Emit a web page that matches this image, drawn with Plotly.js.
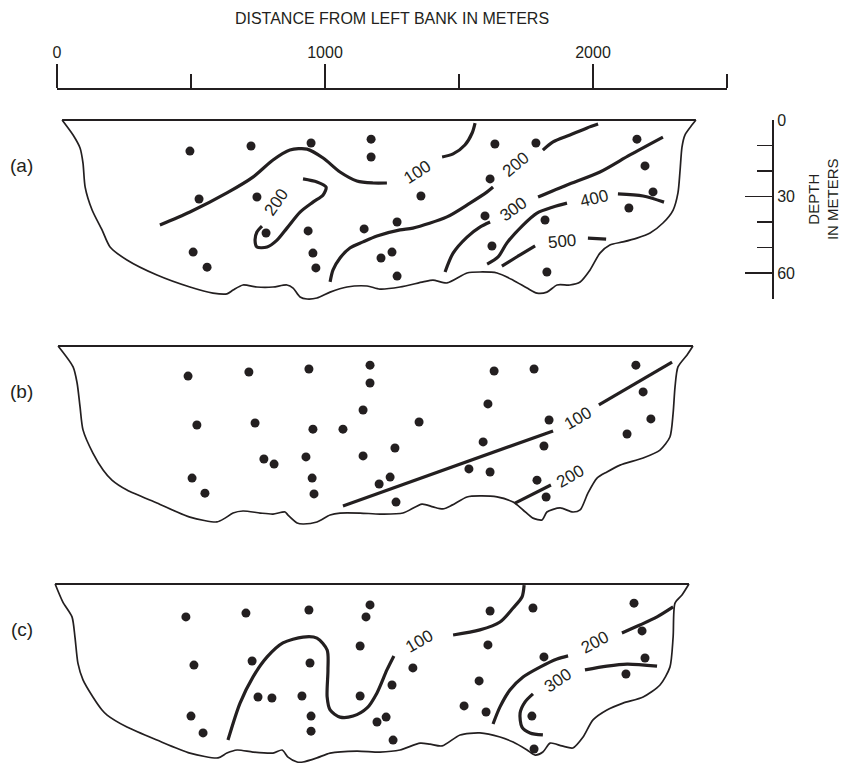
<!DOCTYPE html>
<html><head><meta charset="utf-8">
<script src="https://cdn.plot.ly/plotly-3.0.1.min.js"></script>
<style>html,body{margin:0;padding:0;background:#fff}</style>
</head><body><div id="chart" style="width:843px;height:763px"></div>
<script>
// ---------------- DATA (distance from left bank in m, depth in m) ----------------
// Scale ticks
const distTickVals = [0, 1000, 2000];
const distTickText = ['0', '1000', '2000'];
const distMinorTicks = [500, 1500, 2500];
const depthTickVals = [0, 30, 60];
const depthMinorTicks = [10, 20, 40, 50, 70];
const panelNames = ['(a)', '(b)', '(c)'];

// Panel (a): channel bed (right bank -> bottom -> left bank)
const aBedX = [2384,2369,2343,2332,2325,2317,2299,2261,2213,2164,2112,2063,2026,1989,1952,1914,1866,1828,1791,1754,1702,1642,1578,1530,1455,1403,1366,1280,1205,1157,1082,1019,970,933,907,881,858,806,746,694,657,634,582,496,373,261,198,168,131,105,97,86,60,19];
const aBedD = [0,2,5.9,10.6,19.6,28.6,35.3,40.4,44.3,46.3,47.8,49.0,52.2,58.8,63.5,64.7,64.7,67.5,67.9,65.9,62.8,60.0,59.6,60.0,63.9,62.8,63.5,65.5,66.3,65.1,65.5,67.5,69.8,70.2,69.4,65.9,64.7,65.5,65.5,64.7,66.7,68.2,67.9,65.5,60.8,54.9,49.8,43.1,35.3,26.3,16.9,11.0,5.9,0];
const aDotX = [496,724,948,1172,1172,530,746,780,937,1146,1269,508,560,955,966,1209,1250,1269,1358,1616,1597,1623,1821,1828,1634,1787,2164,2194,2224,2134];
const aDotD = [12.2,10.2,9.0,7.5,14.5,31.0,30.2,44.3,43.5,42.7,40.0,51.8,57.7,52.2,58.0,54.1,51.8,61.2,29.8,23.1,37.6,49.4,39.2,59.6,9.4,9.0,7.5,18.0,28.2,34.5];
const aContours = [
  {x:[384,496,634,731,806,869,933,993,1056,1119,1179,1231], d:[41.2,36.1,28.6,22.4,15.7,11.8,11.4,14.9,20.4,23.9,24.7,24.7]},
  {x:[1437,1478,1522,1549,1560], d:[14.5,13.3,9.8,5.1,1.2]},
  {x:[918,970,1004,993,955,907,858,821,784,746,739,746,765], d:[23.1,24.3,26.3,29.4,32.2,36.1,42.4,47.1,49.8,49.8,47.1,43.9,41.6]},
  {x:[1019,1030,1056,1093,1142,1194,1280,1328,1455,1541,1605,1627], d:[63.5,58.8,54.1,50.2,47.8,45.5,43.1,42.4,38.0,32.6,28.2,26.3]},
  {x:[1813,1851,1914,1978,2019], d:[11.8,8.6,5.9,3.1,1.6]},
  {x:[1448,1478,1530,1578,1616], d:[59.6,52.2,45.9,42.0,40.0]},
  {x:[1795,1903,2026,2138,2261], d:[30.2,25.5,20.4,13.7,6.7]},
  {x:[1605,1646,1679,1739,1791,1851,1903], d:[56.5,53.7,48.2,41.2,36.5,34.1,32.6]},
  {x:[2093,2187,2265], d:[29.0,29.8,32.2]},
  {x:[1660,1728,1784], d:[57.3,52.9,49.4]},
  {x:[1981,2049], d:[46.3,46.7]}
];
const aLabelText = ['100','200','200','300','400','500'];
const aLabelX = [1343,817,1713,1701,2004,1884];
const aLabelD = [20.4,32.2,17.6,34.9,30.6,47.8];
const aLabelAngle = [-33,-55,-40,-36,-14,-5];

// Panel (b)
const bBedX = [2373,2351,2317,2306,2299,2287,2250,2187,2101,2052,2015,1981,1952,1925,1877,1828,1810,1776,1739,1702,1642,1578,1530,1474,1440,1403,1362,1291,1205,1131,1056,1019,970,918,896,862,851,806,758,694,657,627,597,496,373,261,205,172,134,97,86,75,60,4];
const bBedD = [0,3.5,8.2,16.1,26.3,35.7,40.8,43.9,46.7,49.4,51.8,57.7,64.3,65.1,63.5,65.1,68.2,67.5,64.3,61.2,59.2,58.8,59.2,62.4,63.9,63.1,62.0,65.5,65.9,65.5,65.5,66.3,69.0,69.8,69.4,66.3,65.1,65.9,65.5,64.7,65.5,67.5,69.0,67.1,61.6,56.5,52.6,48.6,42.0,32.9,23.9,14.5,8.2,0];
const bDotX = [489,716,940,1168,1168,1142,522,739,955,1067,1261,1142,772,810,929,504,552,952,959,1243,1202,1265,1631,1780,2160,2187,2216,2127,1608,1836,1351,1590,1817,1537,1616,1791,1825];
const bDotD = [11.8,10.2,9.0,7.5,14.5,25.1,31.0,30.2,32.6,32.6,40.0,43.1,44.3,46.3,43.5,51.8,57.7,51.8,58.0,51.4,54.1,61.2,9.8,9.0,7.5,18.0,28.6,34.5,22.7,29.0,29.8,37.6,39.2,48.2,49.4,52.6,59.2];
const bContours = [
  {x:[1067,1851], d:[62.7,33.3]},
  {x:[2022,2295], d:[23.1,6.3]},
  {x:[1709,1843], d:[61.6,54.5]}
];
const bLabelText = ['100','200'];
const bLabelX = [1944,1914];
const bLabelD = [28.6,51.0];
const bLabelAngle = [-30,-30];

// Panel (c)
const cBedX = [2358,2332,2306,2299,2287,2250,2187,2112,2052,2000,1963,1925,1884,1840,1813,1784,1754,1702,1653,1578,1504,1437,1392,1355,1280,1205,1119,1019,970,918,896,862,840,806,731,672,634,601,496,373,261,187,168,134,97,78,67,56,22,-7];
const cBedD = [0,4.3,7.5,20.8,32.6,39.6,44.3,46.7,49.4,53.3,60.0,64.3,63.5,62.4,65.9,67.1,65.1,62.0,60.0,58.4,59.2,63.5,62.8,62.4,65.1,65.9,65.5,66.3,68.2,69.8,69.8,67.9,65.1,66.3,65.9,65.1,66.3,68.2,66.3,61.2,56.1,51.4,49.4,44.3,37.6,31.0,20.8,12.9,7.1,0];
const cDotX = [481,705,940,1168,1153,1131,511,728,944,1250,750,802,914,1131,500,545,948,948,1228,1194,1254,1616,1776,2153,2183,2194,2123,1608,1817,1328,1575,1519,1601,1772,1780];
const cDotD = [12.9,11.4,10.2,8.2,12.9,24.3,31.8,30.2,31.0,39.6,44.3,44.7,43.9,43.9,51.8,58.4,51.8,57.7,52.2,54.1,61.2,10.6,9.4,7.5,18.4,29.0,35.3,23.9,28.6,32.9,38.0,47.8,50.2,51.8,64.7];
const cContours = [
  {x:[638,683,731,784,843,918,970,1008,1011,1008,1019,1056,1105,1157,1194,1231,1257], d:[61.2,46.7,36.5,28.6,23.1,20.8,21.2,25.9,33.7,44.3,49.4,52.2,51.8,48.6,42.7,33.7,28.2]},
  {x:[1478,1578,1653,1702,1735,1743], d:[20.0,18.0,14.9,9.4,5.1,0.4]},
  {x:[1627,1653,1690,1739,1802,1866,1907], d:[54.9,48.2,41.6,36.5,32.6,29.4,28.2]},
  {x:[2108,2175,2239,2299], d:[19.2,16.1,12.9,9.0]},
  {x:[1776,1746,1728,1735,1765,1813], d:[43.1,46.3,50.6,56.1,58.4,59.2]},
  {x:[1970,2052,2127,2239], d:[33.7,32.2,31.4,32.2]}
];
const cLabelText = ['100','200','300'];
const cLabelX = [1351,2007,1869];
const cLabelD = [22.4,23.1,38.0];
const cLabelAngle = [-30,-28,-34];

// ---------------- LAYOUT GEOMETRY ----------------
const W = 843, H = 763;
const INK = '#231f20';
const FONT = 'Liberation Sans, Arial, Helvetica, sans-serif';
const X0PX = 57, PXM = 0.268;          // px of 0 m, px per metre (horizontal)
const PYM = 2.55;                      // px per metre (vertical)
const panelTop = [120, 346, 584];      // px of water surface per panel
const scaleLineY = 89, depthScaleX = 773, distMax = 2500, depthMax = 70;
const panelLabelX = -132, panelLabelD = 18;
const depthTitle = 'DEPTH<br>IN METERS', depthTitleX = 823, depthTitleD = 31;

const panels = [
  {bx:aBedX, bd:aBedD, dx:aDotX, dd:aDotD, c:aContours, lt:aLabelText, lx:aLabelX, ld:aLabelD, la:aLabelAngle},
  {bx:bBedX, bd:bBedD, dx:bDotX, dd:bDotD, c:bContours, lt:bLabelText, lx:bLabelX, ld:bLabelD, la:bLabelAngle},
  {bx:cBedX, bd:cBedD, dx:cDotX, dd:cDotD, c:cContours, lt:cLabelText, lx:cLabelX, ld:cLabelD, la:cLabelAngle}
];
const yNames = ['y', 'y2', 'y3'];

const traces = [];
const annotations = [];
panels.forEach((p, i) => {
  const ya = yNames[i];
  traces.push({type:'scatter', mode:'lines', x:[p.bx[p.bx.length-1], p.bx[0]], y:[0, 0], xaxis:'x', yaxis:ya,
    line:{color:INK, width:2.2}, hoverinfo:'skip'});
  traces.push({type:'scatter', mode:'lines', x:p.bx, y:p.bd, xaxis:'x', yaxis:ya,
    line:{color:INK, width:1.7, shape:'spline', smoothing:0.7}, hoverinfo:'skip'});
  p.c.forEach(s => traces.push({type:'scatter', mode:'lines', x:s.x, y:s.d, xaxis:'x', yaxis:ya,
    line:{color:INK, width:3.2, shape:'spline', smoothing:0.8}, hoverinfo:'skip'}));
  traces.push({type:'scatter', mode:'markers', x:p.dx, y:p.dd, xaxis:'x', yaxis:ya,
    marker:{color:INK, size:9}, hoverinfo:'skip', cliponaxis:false});
  p.lt.forEach((t, k) => annotations.push({x:p.lx[k], y:p.ld[k], xref:'x', yref:ya, text:t, textangle:p.la[k],
    showarrow:false, font:{family:FONT, size:17, color:INK}}));
  annotations.push({x:panelLabelX, y:panelLabelD, xref:'x', yref:ya, text:panelNames[i], showarrow:false,
    font:{family:FONT, size:19, color:INK}});
});
// depth scale title
annotations.push({x:depthTitleX / W, xref:'paper', y:depthTitleD, yref:'y4', text:depthTitle, textangle:-90,
  xanchor:'center', yanchor:'middle', borderpad:0, showarrow:false, font:{family:FONT, size:15, color:INK}});
// carrier trace for the two scale axes
traces.push({type:'scatter', mode:'markers', x:[distTickVals[0]], y:[depthTickVals[0]], xaxis:'x2', yaxis:'y4',
  marker:{opacity:0}, hoverinfo:'skip'});

function yRange(top) { return [(H - top) / PYM, -top / PYM]; }

const layout = {
  width: W, height: H, margin:{l:0, r:0, t:0, b:0}, showlegend:false,
  paper_bgcolor:'#fff', plot_bgcolor:'rgba(0,0,0,0)',
  font:{family:FONT, color:INK},
  xaxis:{domain:[0,1], range:[-X0PX / PXM, (W - X0PX) / PXM], visible:false, fixedrange:true},
  yaxis:{domain:[0,1], range:yRange(panelTop[0]), visible:false, fixedrange:true},
  yaxis2:{overlaying:'y', range:yRange(panelTop[1]), visible:false, fixedrange:true},
  yaxis3:{overlaying:'y', range:yRange(panelTop[2]), visible:false, fixedrange:true},
  xaxis2:{domain:[X0PX / W, (X0PX + distMax * PXM) / W], range:[0, distMax], anchor:'free', position:1 - scaleLineY / H,
    side:'top', showline:true, linecolor:INK, linewidth:2, showgrid:false, zeroline:false,
    tickmode:'array', tickvals:distTickVals, ticktext:distTickText, ticks:'outside', ticklen:24, tickwidth:1.3, tickcolor:INK,
    minor:{tickmode:'array', tickvals:distMinorTicks, ticks:'outside', ticklen:14, tickwidth:1.3, tickcolor:INK, showgrid:false},
    tickfont:{family:FONT, size:16, color:INK},
    title:{text:'DISTANCE FROM LEFT BANK IN METERS', font:{family:FONT, size:16, color:INK}, standoff:14}, fixedrange:true},
  yaxis4:{domain:[1 - (panelTop[0] + depthMax * PYM) / H, 1 - panelTop[0] / H], range:[depthMax, 0], anchor:'free',
    position:depthScaleX / W, side:'right', showline:true, linecolor:INK, linewidth:2, showgrid:false, zeroline:false,
    tickmode:'array', tickvals:depthTickVals, ticks:'inside', ticklen:27, tickwidth:1.3, tickcolor:INK,
    minor:{tickmode:'array', tickvals:depthMinorTicks, ticks:'inside', ticklen:15, tickwidth:1.3, tickcolor:INK, showgrid:false},
    tickfont:{family:FONT, size:16, color:INK}, fixedrange:true},
  annotations: annotations
};

Plotly.newPlot('chart', traces, layout, {displayModeBar:false, staticPlot:true});
</script></body></html>
